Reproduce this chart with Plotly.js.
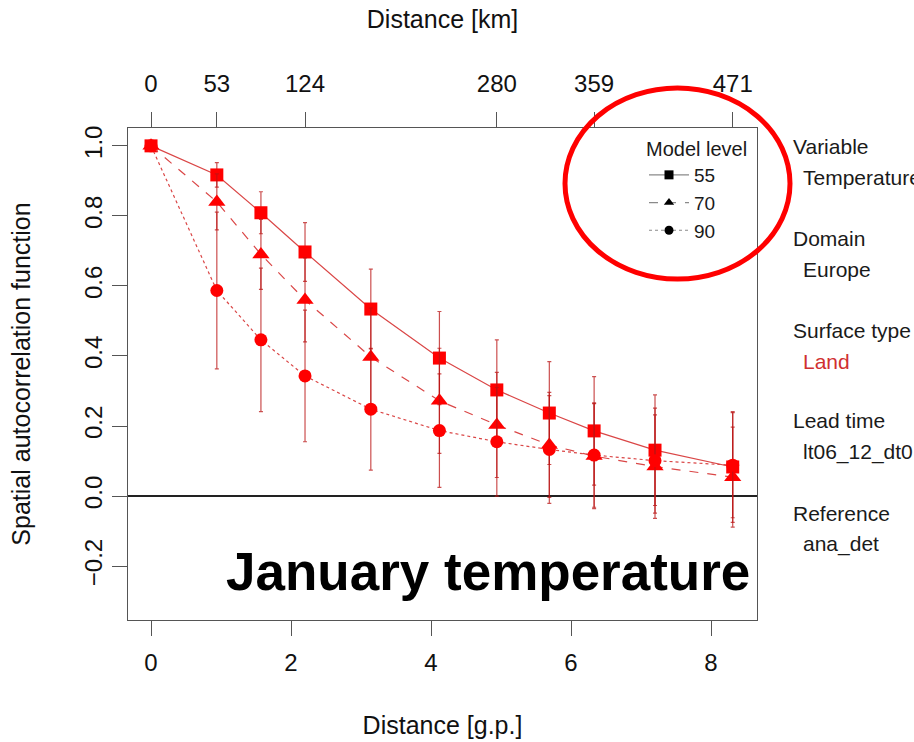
<!DOCTYPE html>
<html>
<head>
<meta charset="utf-8">
<script src="https://cdn.plot.ly/plotly-3.0.1.min.js"></script>
<style>html,body{margin:0;padding:0;background:#fff;}#chart{width:914px;height:742px;}</style>
</head>
<body>
<div id="chart"></div>
<script>
// ---- data ----
const distGp = [0, 0.94, 1.57, 2.2, 3.14, 4.12, 4.94, 5.69, 6.33, 7.2, 8.31];
const acf55 = [1.0, 0.917, 0.809, 0.697, 0.534, 0.394, 0.303, 0.237, 0.186, 0.131, 0.083];
const acf70 = [1.0, 0.840, 0.690, 0.560, 0.397, 0.272, 0.203, 0.146, 0.114, 0.084, 0.054];
const acf90 = [1.0, 0.587, 0.446, 0.343, 0.248, 0.187, 0.155, 0.133, 0.117, 0.101, 0.088];
const err55 = [0, 0.035, 0.060, 0.084, 0.114, 0.133, 0.143, 0.147, 0.155, 0.158, 0.158];
const err70 = [0, 0.080, 0.100, 0.120, 0.140, 0.150, 0.150, 0.150, 0.150, 0.148, 0.143];
const err90 = [0, 0.224, 0.205, 0.188, 0.174, 0.162, 0.155, 0.154, 0.149, 0.150, 0.150];
const levels = ['55', '70', '90'];
const kmTickVals = [0, 0.94, 2.2, 4.94, 6.33, 8.31];
const kmTickText = ['0', '53', '124', '280', '359', '471'];
const gpTicks = [0, 2, 4, 6, 8];
const acfTicks = [-0.2, 0.0, 0.2, 0.4, 0.6, 0.8, 1.0];
const infoLabels = ['Variable', 'Domain', 'Surface type', 'Lead time', 'Reference'];
const infoValues = ['Temperature', 'Europe', 'Land', 'lt06_12_dt0', 'ana_det'];

// ---- styling ----
const FONT = 'Liberation Sans, Arial, Helvetica, sans-serif';
const W = 914, H = 742;
const M = {l: 128, r: 157, t: 128, b: 122};
const PW = W - M.l - M.r, PH = H - M.t - M.b;
const px = x => (x - M.l) / PW;
const py = y => (H - M.b - y) / PH;

const series = [
  {y: acf55, e: err55, sym: 'square', dash: 'solid', size: 13},
  {y: acf70, e: err70, sym: 'triangle-up', dash: 'dash', size: 15},
  {y: acf90, e: err90, sym: 'circle', dash: 'dot', size: 13}
];
const lineCol = 'rgb(218,70,70)';
const markCol = '#ff0000';
const errCol = 'rgba(185,20,20,0.75)';

const traces = [];
series.forEach((s, i) => {
  traces.push({
    x: distGp, y: s.y, type: 'scatter', mode: 'lines+markers',
    name: levels[i], showlegend: false,
    line: {color: lineCol, width: 1.2, dash: s.dash},
    marker: {symbol: s.sym, size: s.size, color: markCol},
    error_y: {type: 'data', array: s.e, visible: true, color: errCol, thickness: 1.2, width: 2}
  });
});
// legend entries (black symbols, grey lines)
series.forEach((s, i) => {
  traces.push({
    x: [null], y: [null], type: 'scatter', mode: 'lines+markers', xaxis: 'x2',
    name: levels[i], showlegend: true,
    line: {color: '#8a8a8a', width: 1.2, dash: s.dash},
    marker: {symbol: s.sym, size: 9, color: '#000'}
  });
});

const annotations = [{
  text: '<b>January temperature</b>', xref: 'paper', yref: 'paper',
  x: px(752), y: py(571), xanchor: 'right', yanchor: 'middle', showarrow: false,
  font: {family: FONT, size: 53, color: '#000'}
}];
const infoY = [146, 238, 330, 421, 513];
infoLabels.forEach((lab, i) => {
  annotations.push({
    text: lab, xref: 'paper', yref: 'paper', x: px(791), y: py(infoY[i]),
    xanchor: 'left', yanchor: 'middle', showarrow: false,
    font: {family: FONT, size: 21, color: '#1a1a1a'}
  });
  annotations.push({
    text: infoValues[i], xref: 'paper', yref: 'paper', x: px(801), y: py(infoY[i] + 31),
    xanchor: 'left', yanchor: 'middle', showarrow: false,
    font: {family: FONT, size: 21, color: i === 2 ? '#d03030' : '#1a1a1a'}
  });
});

const layout = {
  width: W, height: H, margin: M,
  paper_bgcolor: '#fff', plot_bgcolor: '#fff',
  font: {family: FONT, size: 24, color: '#111'},
  showlegend: true,
  legend: {
    x: px(750), y: py(130), xanchor: 'right', yanchor: 'top',
    bgcolor: 'rgba(0,0,0,0)', font: {family: FONT, size: 19, color: '#1a1a1a'},
    title: {text: 'Model level', side: 'top', font: {family: FONT, size: 20, color: '#1a1a1a'}},
    tracegroupgap: 0, itemwidth: 40
  },
  xaxis: {
    range: [-0.329, 8.657], tickvals: gpTicks, ticks: 'outside', ticklen: 15,
    tickcolor: '#555', showline: true, mirror: true, linecolor: '#555', linewidth: 1.2,
    showgrid: false, zeroline: false, ticklabelstandoff: 6,
    title: {text: 'Distance [g.p.]', standoff: 41, font: {family: FONT, size: 25}}
  },
  xaxis2: {
    range: [-0.329, 8.657], overlaying: 'x', side: 'top', anchor: 'y',
    tickvals: kmTickVals, ticktext: kmTickText, ticks: 'outside', ticklen: 15,
    tickcolor: '#555', showline: false, showgrid: false, zeroline: false, ticklabelstandoff: 10,
    title: {text: 'Distance [km]', standoff: 34, font: {family: FONT, size: 25}}
  },
  yaxis: {
    range: [-0.354, 1.051], tickvals: acfTicks, tickformat: '.1f', tickangle: -90,
    ticks: 'outside', ticklen: 15, tickcolor: '#555', showline: true, mirror: true,
    linecolor: '#555', linewidth: 1.2, showgrid: false,
    zeroline: true, zerolinecolor: '#222', zerolinewidth: 2, ticklabelstandoff: 0,
    title: {text: 'Spatial autocorrelation function', standoff: 42, font: {family: FONT, size: 25}}
  },
  shapes: [{
    type: 'circle', xref: 'paper', yref: 'paper',
    x0: px(565), x1: px(790), y0: py(279), y1: py(88),
    line: {color: '#ff0000', width: 5}
  }],
  annotations: annotations
};

Plotly.newPlot('chart', traces, layout, {displayModeBar: false, staticPlot: true});
</script>
</body>
</html>
